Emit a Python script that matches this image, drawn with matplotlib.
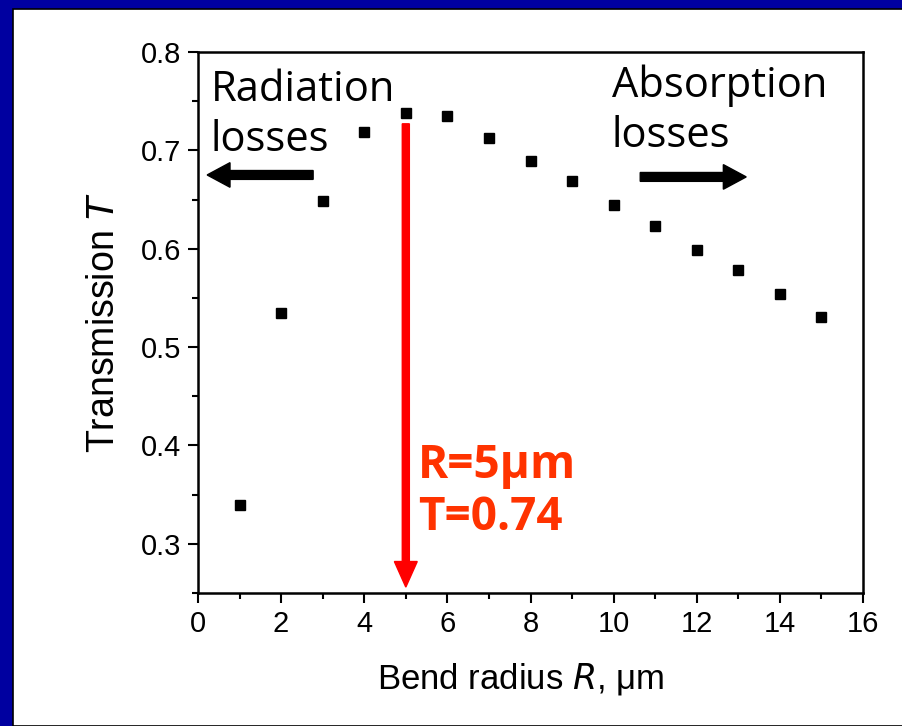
import matplotlib
matplotlib.use("Agg")
import matplotlib.pyplot as plt
from matplotlib.patches import Rectangle, FancyArrow

# data
radius = [1, 2, 3, 4, 5, 6, 7, 8, 9, 10, 11, 12, 13, 14, 15]
transmission = [0.339, 0.535, 0.649, 0.719, 0.738, 0.735, 0.713, 0.689,
                0.669, 0.644, 0.623, 0.599, 0.578, 0.554, 0.531]
x_ticks = [0, 2, 4, 6, 8, 10, 12, 14, 16]
y_ticks = [0.3, 0.4, 0.5, 0.6, 0.7, 0.8]

plt.rcParams['font.family'] = ['Liberation Sans', 'DejaVu Sans']

fig = plt.figure(figsize=(9.02, 7.26), dpi=100)
fig.patch.set_facecolor('#0000A0')
# white panel inside the blue frame
fig.patches.append(Rectangle((13 / 902, 0), 1, (726 - 9) / 726, transform=fig.transFigure,
                             facecolor='white', edgecolor='black', linewidth=1.2, zorder=-10))

ax = fig.add_axes([198 / 902, (726 - 593) / 726, 665 / 902, 541 / 726])
ax.set_facecolor('white')
ax.plot(radius, transmission, 's', color='black', markersize=7.2, zorder=3)

ax.set_xlim(0, 16)
ax.set_ylim(0.25, 0.8)
ax.set_xticks(x_ticks)
ax.set_xticks(range(1, 16, 2), minor=True)
ax.set_yticks(y_ticks)
ax.set_yticks([0.25, 0.35, 0.45, 0.55, 0.65, 0.75], minor=True)
ax.set_yticklabels(['0.3', '0.4', '0.5', '0.6', '0.7', '0.8'])
ax.tick_params(which='major', direction='out', length=7, width=1.5, labelsize=21, pad=5)
ax.tick_params(which='minor', direction='out', length=4, width=1.5)
for s in ax.spines.values():
    s.set_linewidth(1.8)

ax.set_xlabel('Bend radius $\\it{R}$, \u03bcm', fontsize=25, labelpad=18)
ax.xaxis.set_label_coords(0.485, -0.125)
ax.set_ylabel('Transmission $\\it{T}$', fontsize=27, labelpad=14)

# red arrow marking the optimum
ax.add_patch(FancyArrow(5, 0.727, 0, -0.471, width=0.17, head_width=0.55, head_length=0.026,
                        length_includes_head=True, color='#FF0000', zorder=2))
ax.text(5.3, 0.353, 'R=5\u03bcm\nT=0.74', color='#FF3300', fontsize=33, fontweight='bold',
        family=['Open Sans', 'DejaVu Sans'], ha='left', va='center', linespacing=1.15)

# loss regions
ax.text(0.3, 0.783, 'Radiation\nlosses', fontsize=30, family=['Open Sans', 'DejaVu Sans'],
        ha='left', va='top', linespacing=1.25)
ax.text(9.95, 0.787, 'Absorption\nlosses', fontsize=30, family=['Open Sans', 'DejaVu Sans'],
        ha='left', va='top', linespacing=1.25)
ax.add_patch(FancyArrow(2.77, 0.675, -2.55, 0, width=0.009, head_width=0.025, head_length=0.55,
                        length_includes_head=True, color='black', zorder=2))
ax.add_patch(FancyArrow(10.64, 0.673, 2.55, 0, width=0.009, head_width=0.025, head_length=0.55,
                        length_includes_head=True, color='black', zorder=2))

fig.savefig('out.png', dpi=100, facecolor=fig.get_facecolor())
